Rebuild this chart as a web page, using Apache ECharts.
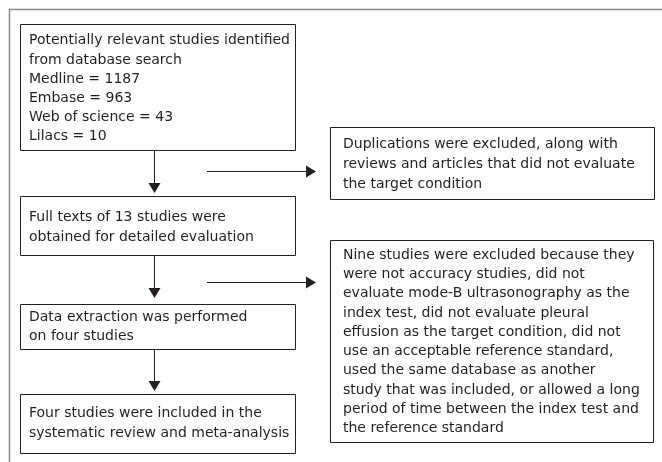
<!DOCTYPE html>
<html><head><meta charset="utf-8">
<script src="https://cdn.jsdelivr.net/npm/echarts@6/dist/echarts.min.js"></script>
<style>html,body{margin:0;padding:0;background:#fff}#c{width:662px;height:462px}</style>
</head><body><div id="c"></div>
<script>
// Flowchart content
var box1Lines = ["Potentially relevant studies identified", "from database search", "Medline = 1187", "Embase = 963", "Web of science = 43", "Lilacs = 10"];
var box2Lines = ["Full texts of 13 studies were", "obtained for detailed evaluation"];
var box3Lines = ["Data extraction was performed", "on four studies"];
var box4Lines = ["Four studies were included in the", "systematic review and meta-analysis"];
var excl1Lines = ["Duplications were excluded, along with", "reviews and articles that did not evaluate", "the target condition"];
var excl2Lines = ["Nine studies were excluded because they", "were not accuracy studies, did not", "evaluate mode-B ultrasonography as the", "index test, did not evaluate pleural", "effusion as the target condition, did not", "use an acceptable reference standard,", "used the same database as another", "study that was included, or allowed a long", "period of time between the index test and", "the reference standard"];

var chart = echarts.init(document.getElementById('c'), null, {renderer: 'canvas'});
var FONT = '14px "DejaVu Sans", Verdana, sans-serif';
var TXT = '#231f20';
var LINE = '#231f20';
var els = [];

function box(x, y, w, h, lines, firstY, step, tx) {
  els.push({type: 'rect', shape: {x: x + 0.5, y: y + 0.5, width: w, height: h}, style: {fill: '#fff', stroke: LINE, lineWidth: 1}, z: 2});
  lines.forEach(function (t, i) {
    els.push({type: 'text', x: tx, y: firstY + i * step, style: {text: t, font: FONT, fill: TXT, align: 'left', verticalAlign: 'middle'}, z: 3});
  });
}
function vArrow(x, y1, y2) {
  els.push({type: 'line', shape: {x1: x + 0.5, y1: y1, x2: x + 0.5, y2: y2 - 9}, style: {stroke: LINE, lineWidth: 1}, z: 1});
  els.push({type: 'polygon', shape: {points: [[x + 0.5 - 6, y2 - 10], [x + 0.5 + 6, y2 - 10], [x + 0.5, y2]]}, style: {fill: LINE}, z: 1});
}
function hArrow(x1, x2, y) {
  els.push({type: 'line', shape: {x1: x1, y1: y + 0.5, x2: x2 - 9, y2: y + 0.5}, style: {stroke: LINE, lineWidth: 1}, z: 1});
  els.push({type: 'polygon', shape: {points: [[x2 - 10, y + 0.5 - 6], [x2 - 10, y + 0.5 + 6], [x2, y + 0.5]]}, style: {fill: LINE}, z: 1});
}

// outer frame
els.push({type: 'polyline', shape: {points: [[9.5, 462], [9.5, 9.5], [662, 9.5]]}, style: {stroke: '#8a8a8a', lineWidth: 1.5, fill: null}, z: 0});

box(20, 24, 275, 126, box1Lines, 40.7, 19.2, 29);
box(20, 196, 275, 59, box2Lines, 217, 20, 29);
box(20, 304, 275, 45, box3Lines, 317, 19.3, 29);
box(20, 394, 275, 59, box4Lines, 413, 20, 29);
box(330, 127, 324, 72, excl1Lines, 144.5, 19.8, 343);
box(330, 240, 323, 202, excl2Lines, 255, 19.3, 343);

vArrow(154, 150, 193);
vArrow(154, 255, 298);
vArrow(154, 349, 391);
hArrow(207, 316, 171);
hArrow(207, 316, 282);

chart.setOption({animation: false, graphic: {elements: els}});
</script>
</body></html>
